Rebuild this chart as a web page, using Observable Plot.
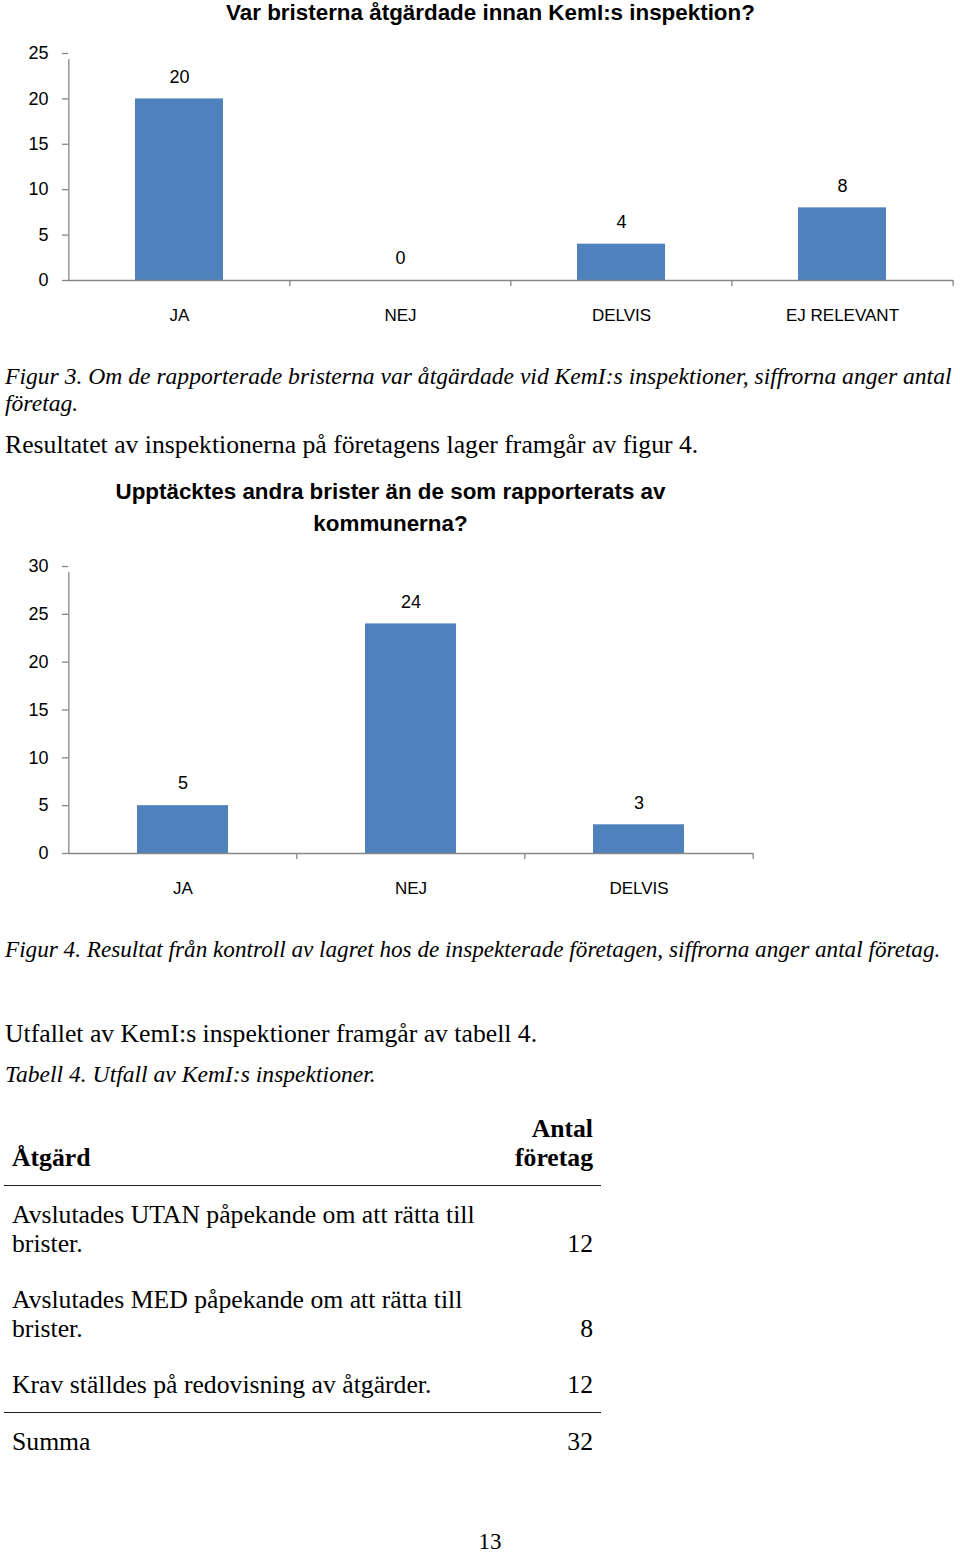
<!DOCTYPE html>
<html>
<head>
<meta charset="utf-8">
<script src="https://cdn.jsdelivr.net/npm/d3@7"></script>
<script src="https://cdn.jsdelivr.net/npm/@observablehq/plot@0.6"></script>
<style>
  html, body { margin: 0; padding: 0; background: #fff; }
  body { width: 960px; height: 1553px; position: relative; overflow: hidden; }
  .abs { position: absolute; }
  .sans { font-family: "Liberation Sans", Arial, sans-serif; color: #000; }
  .serif { font-family: "Liberation Serif", "Times New Roman", serif; color: #000; }
  .ctitle { font-weight: bold; font-size: 22.4px; text-align: center; white-space: nowrap; }
  .cap { font-style: italic; font-size: 23.6px; line-height: 27px; white-space: nowrap; }
  .body { font-size: 25.7px; line-height: 27px; white-space: nowrap; }
  table.t { border-collapse: collapse; font-family: "Liberation Serif", "Times New Roman", serif; font-size: 25.7px; line-height: 29px; color: #000; }
  table.t th, table.t td { padding: 0 8px; vertical-align: bottom; }
  table.t th { font-weight: bold; padding-bottom: 13px; border-bottom: 1.5px solid #222; }
  table.t td { padding-top: 14px; padding-bottom: 13px; }
  table.t tr.sum td { border-top: 1.5px solid #222; padding-top: 14px; }
  .l { text-align: left; }
  .r { text-align: right; }
</style>
</head>
<body>
<div id="root"></div>
<script>
// ---------- data ----------
const chart1Title = "Var bristerna åtgärdade innan KemI:s inspektion?";
const chart1Categories = ["JA", "NEJ", "DELVIS", "EJ RELEVANT"];
const chart1Values = [20, 0, 4, 8];
const chart1Ticks = [0, 5, 10, 15, 20, 25];

const figure3Caption = ["Figur 3. Om de rapporterade bristerna var åtgärdade vid KemI:s inspektioner, siffrorna anger antal", "företag."];
const paragraph1 = "Resultatet av inspektionerna på företagens lager framgår av figur 4.";

const chart2TitleLines = ["Upptäcktes andra brister än de som rapporterats av", "kommunerna?"];
const chart2Categories = ["JA", "NEJ", "DELVIS"];
const chart2Values = [5, 24, 3];
const chart2Ticks = [0, 5, 10, 15, 20, 25, 30];

const figure4Caption = "Figur 4. Resultat från kontroll av lagret hos de inspekterade företagen, siffrorna anger antal företag.";
const paragraph2 = "Utfallet av KemI:s inspektioner framgår av tabell 4.";
const table4Caption = "Tabell 4. Utfall av KemI:s inspektioner.";

const tableHeaders = ["Åtgärd", "Antal företag"];
const tableActions = [
  "Avslutades UTAN påpekande om att rätta till brister.",
  "Avslutades MED påpekande om att rätta till brister.",
  "Krav ställdes på redovisning av åtgärder."
];
const tableCounts = [12, 8, 12];
const tableTotalLabel = "Summa";
const tableTotal = 32;
const pageNumber = "13";

// ---------- helpers ----------
const root = document.getElementById("root");
const BAR = "#4F81BD";
const AXIS = "#868686";

function addDiv(cls, css, html) {
  const d = document.createElement("div");
  d.className = "abs " + cls;
  Object.assign(d.style, css);
  d.innerHTML = html;
  root.appendChild(d);
  return d;
}

function barChart({cats, vals, ticks, width, height, marginLeft, marginRight, marginTop, marginBottom}) {
  const data = cats.map((c, i) => ({c, v: vals[i]}));
  const yMax = ticks[ticks.length - 1];
  const step = (width - marginLeft - marginRight) / cats.length;
  return Plot.plot({
    width, height, marginLeft, marginRight, marginTop, marginBottom,
    style: {fontFamily: "'Liberation Sans', Arial, sans-serif", fontSize: "17px", color: "#000", background: "transparent", overflow: "visible"},
    x: {domain: cats, paddingInner: 0.6, paddingOuter: 0.3, axis: null},
    y: {domain: [0, yMax], axis: null},
    marks: [
      Plot.barY(data, {x: "c", y: "v", fill: BAR}),
      Plot.ruleY([0], {stroke: AXIS, strokeWidth: 1.3}),
      Plot.ruleX([cats[0]], {x: d => d, y1: 0, y2: yMax, dx: -step / 2, insetBottom: -6, stroke: AXIS, strokeWidth: 1.3}),
      Plot.ruleX(cats.slice(1), {x: d => d, y1: 0, y2: 0, dx: -step / 2, insetBottom: -6, stroke: AXIS, strokeWidth: 1.3}),
      Plot.ruleX([cats[cats.length - 1]], {x: d => d, y1: 0, y2: 0, dx: step / 2, insetBottom: -6, stroke: AXIS, strokeWidth: 1.3}),
      Plot.axisY({ticks, tickSize: 6, tickPadding: 14, stroke: AXIS, strokeWidth: 1.3, fill: "#000", label: null, fontSize: 18, tickFormat: d => String(d)}),
      Plot.axisX({tickSize: 0, tickPadding: 28, fill: "#000", label: null}),
      Plot.text(data, {x: "c", y: "v", text: d => String(d.v), dy: -22, fill: "#000", fontSize: 18})
    ]
  });
}

// ---------- chart 1 ----------
addDiv("sans ctitle", {left: "28px", top: "0px", width: "925px", lineHeight: "26px"}, chart1Title);
const c1 = barChart({cats: chart1Categories, vals: chart1Values, ticks: chart1Ticks,
  width: 960, height: 300, marginLeft: 68, marginRight: 7, marginTop: 23, marginBottom: 50});
const c1wrap = addDiv("", {left: "0px", top: "30px"}, "");
c1wrap.appendChild(c1);

// ---------- text ----------
addDiv("serif cap", {left: "5px", top: "363px"}, figure3Caption.join("<br>"));
addDiv("serif body", {left: "5px", top: "431px"}, paragraph1);

// ---------- chart 2 ----------
addDiv("sans ctitle", {left: "28px", top: "476px", width: "725px", lineHeight: "32px"}, chart2TitleLines.join("<br>"));
const c2 = barChart({cats: chart2Categories, vals: chart2Values, ticks: chart2Ticks,
  width: 960, height: 358, marginLeft: 68, marginRight: 207, marginTop: 21, marginBottom: 50});
const c2wrap = addDiv("", {left: "0px", top: "545px"}, "");
c2wrap.appendChild(c2);

addDiv("serif cap", {left: "5px", top: "936px", fontSize: "23.2px"}, figure4Caption);
addDiv("serif body", {left: "5px", top: "1020px"}, paragraph2);
addDiv("serif cap", {left: "5px", top: "1061px"}, table4Caption);

// ---------- table ----------
const tbl = document.createElement("table");
tbl.className = "t";
let html = `<thead><tr><th class="l" style="width:480px">${tableHeaders[0]}</th><th class="r">${tableHeaders[1].replace(" ", "<br>")}</th></tr></thead><tbody>`;
tableActions.forEach((a, i) => {
  html += `<tr><td class="l" style="width:480px">${a}</td><td class="r">${tableCounts[i]}</td></tr>`;
});
html += `<tr class="sum"><td class="l">${tableTotalLabel}</td><td class="r">${tableTotal}</td></tr></tbody>`;
tbl.innerHTML = html;
const twrap = addDiv("", {left: "4px", top: "1114px", width: "597px"}, "");
tbl.style.width = "597px";
twrap.appendChild(tbl);

addDiv("serif body", {left: "0px", top: "1528px", width: "980px", textAlign: "center", fontSize: "23px"}, pageNumber);
</script>
</body>
</html>
